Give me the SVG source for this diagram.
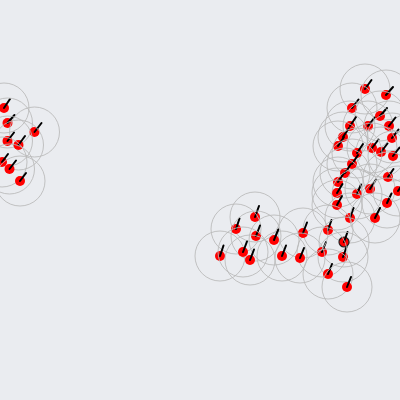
<svg xmlns="http://www.w3.org/2000/svg" width="400" height="400" viewBox="0 0 400 400">
<style>
.range{fill:none;stroke:#b8b8b8;stroke-width:1;stroke-opacity:0.85}
.dot{fill:#ff0000}
.sel{stroke:#222;stroke-width:1.2}
.hd{stroke:#000;stroke-width:2;stroke-linecap:round}
</style>
<rect width="400" height="400" fill="#eaecf0"/>
<defs>
<g id="b"><circle class="range" r="25"/><circle class="dot" r="5"/></g>
</defs>
<g id="boids">
<g id="L1" transform="translate(4,108)"><use href="#b"/><line class="hd" x2="6" y2="-9"/></g>
<g id="L2" transform="translate(7.5,123)"><use href="#b"/><line class="hd" x2="7" y2="-8"/></g>
<g id="L3" transform="translate(34.5,132)"><use href="#b"/><line class="hd" x2="7" y2="-9"/></g>
<g id="L4" transform="translate(7.5,141)"><use href="#b"/><line class="hd" x2="6.5" y2="-8.5"/></g>
<g id="L5" transform="translate(18.5,145)"><use href="#b"/><line class="hd" x2="6.5" y2="-9"/></g>
<g id="L6" transform="translate(2,162)"><use href="#b"/><line class="hd" x2="6" y2="-8"/></g>
<g id="L7" transform="translate(9.5,169)"><use href="#b"/><line class="hd" x2="6.5" y2="-8.5"/></g>
<g id="L8" transform="translate(20,181)"><use href="#b"/><line class="hd" x2="6" y2="-8"/></g>
<g id="R1" transform="translate(365,89)"><use href="#b"/><line class="hd" x2="6.5" y2="-9"/></g>
<g id="R2" transform="translate(386,95)"><use href="#b"/><line class="hd" x2="7" y2="-8"/></g>
<g id="R3" transform="translate(352,108)"><use href="#b"/><line class="hd" x2="6.5" y2="-8.5"/></g>
<g id="R4" transform="translate(380,116)"><use href="#b"/><line class="hd" x2="7" y2="-8"/></g>
<g id="R5" transform="translate(368,126)"><use href="#b"/><line class="hd" x2="6.5" y2="-8.5"/></g>
<g id="R6" transform="translate(350,126)"><use href="#b"/><line class="hd" x2="6" y2="-9"/></g>
<g id="R7" transform="translate(389,126)"><use href="#b"/><line class="hd" x2="6.5" y2="-8.5"/></g>
<g id="R8" transform="translate(343,137)"><use href="#b"/><line class="hd" x2="6" y2="-9"/></g>
<g id="R9" transform="translate(392,138)"><use href="#b"/><line class="hd" x2="6.5" y2="-8.5"/></g>
<g id="R10" transform="translate(338,146)"><use href="#b"/><line class="hd" x2="6" y2="-9"/></g>
<g id="R11" transform="translate(372,148)"><use href="#b"/><line class="hd" x2="6.5" y2="-8.5"/></g>
<g id="R12" transform="translate(381,152)"><use href="#b"/><line class="hd" x2="6.5" y2="-8.5"/></g>
<g id="R13" transform="translate(357,153)"><use href="#b"/><line class="hd" x2="6" y2="-9"/></g>
<g id="R14" transform="translate(393,156)"><use href="#b"/><line class="hd" x2="6.5" y2="-8.5"/></g>
<g id="R15" transform="translate(352,164)"><use href="#b"/><line class="hd" x2="6" y2="-9"/></g>
<g id="R16" transform="translate(345,173)"><use href="#b"/><line class="hd" x2="6" y2="-9"/></g>
<g id="R17" transform="translate(338,182)"><use href="#b"/><line class="hd" x2="6" y2="-9"/></g>
<g id="R18" transform="translate(388,177)"><use href="#b"/><line class="hd" x2="5.5" y2="-8"/></g>
<g id="R19" transform="translate(370,189)"><use href="#b"/><line class="hd" x2="6" y2="-9.5"/></g>
<g id="R20" transform="translate(357,194)"><use href="#b"/><line class="hd" x2="4" y2="-9.5"/></g>
<g id="R21" transform="translate(398,191)"><use href="#b"/><line class="hd" x2="6" y2="-9"/></g>
<g id="R22" transform="translate(337,193)"><use href="#b"/><line class="hd" x2="5.5" y2="-9"/></g>
<g id="R23" transform="translate(337,205)"><use href="#b"/><line class="hd" x2="5" y2="-9"/></g>
<g id="R24" transform="translate(387,203)"><use href="#b"/><line class="hd" x2="4.5" y2="-9.5"/></g>
<g id="R25" transform="translate(350,218)"><use href="#b"/><line class="hd" x2="3.5" y2="-10"/></g>
<g id="R26" transform="translate(375,218)"><use href="#b"/><line class="hd" x2="5" y2="-10"/></g>
<g id="R27" transform="translate(328,230)"><use href="#b"/><line class="hd" x2="3.5" y2="-10"/></g>
<g id="R28" transform="translate(344,242)"><circle class="range" r="25"/><circle class="dot sel" r="5"/><line class="hd" x2="3.5" y2="-10"/></g>
<g id="R29" transform="translate(343,257)"><use href="#b"/><line class="hd" x2="3.5" y2="-10"/></g>
<g id="R30" transform="translate(322,252)"><use href="#b"/><line class="hd" x2="4" y2="-10"/></g>
<g id="R31" transform="translate(328,274)"><use href="#b"/><line class="hd" x2="4" y2="-10"/></g>
<g id="R32" transform="translate(347,287)"><use href="#b"/><line class="hd" x2="4" y2="-10"/></g>
<g id="R33" transform="translate(303,233)"><use href="#b"/><line class="hd" x2="4" y2="-10.5"/></g>
<g id="R34" transform="translate(300,258)"><use href="#b"/><line class="hd" x2="4" y2="-10"/></g>
<g id="R35" transform="translate(282,256)"><use href="#b"/><line class="hd" x2="4" y2="-10.5"/></g>
<g id="R36" transform="translate(274,240)"><use href="#b"/><line class="hd" x2="4.3" y2="-10.5"/></g>
<g id="R37" transform="translate(255,217)"><use href="#b"/><line class="hd" x2="4" y2="-11"/></g>
<g id="R38" transform="translate(236,229)"><use href="#b"/><line class="hd" x2="3.5" y2="-10.5"/></g>
<g id="R39" transform="translate(256,236)"><use href="#b"/><line class="hd" x2="4" y2="-10.5"/></g>
<g id="R40" transform="translate(220,256)"><use href="#b"/><line class="hd" x2="3.5" y2="-10.5"/></g>
<g id="R41" transform="translate(243,252)"><use href="#b"/><line class="hd" x2="4" y2="-10.5"/></g>
<g id="R42" transform="translate(250,260)"><use href="#b"/><line class="hd" x2="4" y2="-10.5"/></g>
</g>
</svg>
